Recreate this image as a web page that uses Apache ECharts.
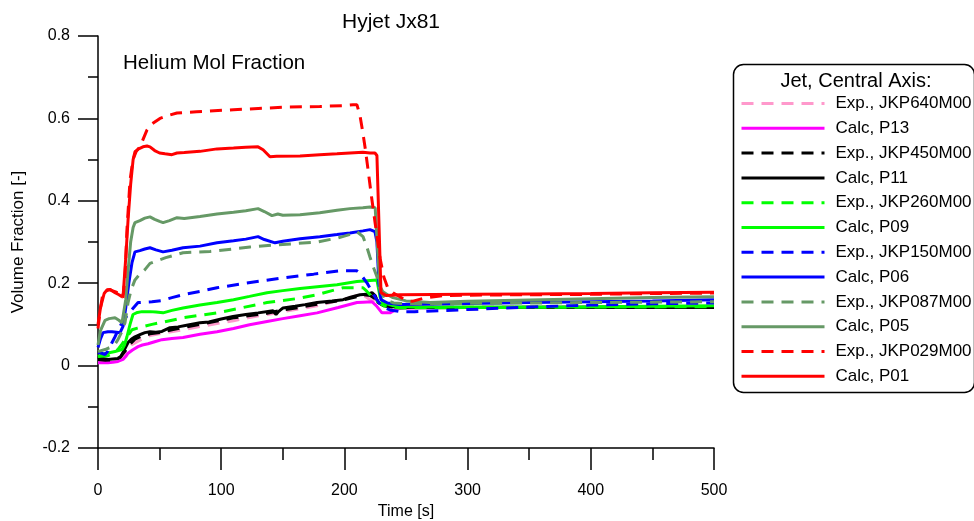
<!DOCTYPE html>
<html>
<head>
<meta charset="utf-8">
<script src="https://cdn.jsdelivr.net/npm/echarts@6/dist/echarts.min.js"></script>
<style>
html,body{margin:0;padding:0;background:#fff;}
#chart{width:974px;height:521px;}
</style>
</head>
<body>
<div id="chart"></div>
<script>
// ---- data: [time s, volume fraction] ----
const expJKP640M00 = [[0,0.01],[5,0.01],[10,0.012],[15,0.013],[18,0.016],[22,0.03],[27,0.05],[33,0.06],[38,0.068],[42.2,0.073],[55,0.08],[69,0.087],[82.8,0.095],[96.6,0.102],[110,0.109],[123,0.117],[137.2,0.124],[150,0.131],[164,0.138],[177.8,0.145],[190,0.154],[204.5,0.165],[212.7,0.172],[215.1,0.172],[220.8,0.16],[227.3,0.153],[232,0.147],[245,0.143],[300,0.143],[400,0.143],[500,0.143]];
const calcP13 = [[0,0.007],[4,0.007],[8.1,0.007],[12,0.008],[16.2,0.01],[20.3,0.015],[22.5,0.022],[24.4,0.03],[28,0.038],[32.5,0.046],[36,0.05],[40.6,0.053],[46,0.058],[51.9,0.063],[60,0.066],[69,0.068],[82.8,0.076],[96.6,0.082],[110,0.09],[123,0.099],[137.2,0.107],[150,0.114],[164,0.121],[177.8,0.128],[195,0.141],[210.2,0.153],[215,0.154],[222.4,0.155],[226,0.145],[230.5,0.128],[237,0.128],[243,0.138],[250,0.14],[300,0.141],[400,0.142],[500,0.143]];
const expJKP450M00 = [[0,0.015],[6,0.013],[12,0.014],[18,0.02],[22,0.035],[26,0.052],[30,0.064],[35,0.071],[42.2,0.077],[52,0.081],[60,0.087],[70,0.093],[82.8,0.1],[96.6,0.108],[110,0.116],[125,0.122],[137.2,0.127],[150.2,0.135],[165,0.142],[177.8,0.149],[190,0.155],[200,0.16],[210,0.167],[216,0.172],[220.8,0.17],[225,0.162],[229,0.15],[235,0.143],[245,0.141],[300,0.141],[400,0.141],[500,0.141]];
const calcP11 = [[0,0.02],[4,0.017],[8.1,0.015],[12,0.016],[16.2,0.017],[18.5,0.022],[20.3,0.032],[22.5,0.045],[24.4,0.056],[27,0.064],[30,0.07],[34,0.075],[38.1,0.08],[42.2,0.082],[47,0.081],[51.9,0.083],[58.4,0.092],[65,0.094],[72,0.098],[82.8,0.104],[90,0.106],[100,0.113],[109.6,0.119],[120,0.124],[130,0.128],[142,0.133],[144.5,0.124],[146.5,0.131],[150.2,0.14],[160,0.144],[168,0.148],[177.8,0.153],[190,0.157],[198.9,0.16],[205,0.166],[212.7,0.172],[218,0.173],[222.4,0.177],[225,0.17],[227.3,0.153],[232,0.145],[245,0.141],[300,0.141],[400,0.141],[500,0.141]];
const expJKP260M00 = [[0,0.022],[8.1,0.024],[12,0.03],[16.2,0.039],[19,0.05],[21.9,0.063],[25,0.076],[27.6,0.087],[32,0.091],[35.7,0.094],[43.8,0.1],[51.9,0.105],[69,0.116],[96.6,0.128],[137.2,0.153],[160,0.162],[177.8,0.172],[190,0.182],[198.9,0.189],[210.2,0.189],[215.1,0.189],[218.3,0.18],[222.4,0.167],[227.3,0.155],[232,0.145],[245,0.14],[300,0.141],[400,0.142],[500,0.143]];
const calcP09 = [[0,0.022],[5.7,0.029],[10,0.032],[13.8,0.034],[19.5,0.039],[21.5,0.05],[23.5,0.07],[26,0.1],[28.4,0.124],[32,0.129],[35.7,0.131],[42.2,0.131],[47,0.13],[52.8,0.128],[60,0.134],[69,0.14],[82.8,0.147],[96.6,0.153],[110,0.16],[123,0.168],[137.2,0.177],[150,0.182],[164,0.187],[180,0.192],[194,0.196],[210.2,0.204],[218.3,0.206],[226.4,0.208],[228.9,0.167],[231.3,0.153],[240,0.145],[255,0.142],[300,0.142],[400,0.143],[500,0.145]];
const expJKP150M00 = [[0,0.032],[3,0.03],[5.7,0.027],[8,0.035],[11.4,0.056],[13.8,0.07],[17,0.09],[19.5,0.104],[22,0.115],[24.4,0.124],[27.6,0.136],[32.5,0.153],[38,0.154],[43.8,0.155],[51.9,0.158],[60,0.165],[69,0.172],[82.8,0.18],[96.6,0.189],[120,0.2],[150.2,0.213],[175,0.222],[196.4,0.23],[210.2,0.23],[212,0.226],[218.3,0.201],[224.8,0.167],[230.5,0.143],[237,0.135],[245.1,0.131],[257,0.131],[300,0.136],[350,0.142],[400,0.147],[450,0.15],[500,0.152]];
const calcP06 = [[0,0.044],[2,0.065],[4.1,0.08],[8,0.082],[11.4,0.082],[15,0.081],[17.9,0.08],[20.3,0.095],[22.5,0.14],[25,0.2],[27.6,0.25],[30,0.276],[34,0.279],[38,0.283],[42.2,0.286],[47,0.281],[52.8,0.276],[60,0.28],[69,0.286],[82.8,0.29],[96.6,0.298],[110,0.303],[120,0.307],[129.9,0.313],[135,0.306],[143.7,0.298],[150,0.302],[164,0.308],[180,0.313],[194,0.318],[204.5,0.322],[215,0.327],[220.8,0.33],[224.8,0.325],[226.4,0.3],[228,0.2],[229.7,0.16],[235,0.152],[245,0.148],[300,0.151],[350,0.153],[400,0.155],[450,0.157],[500,0.16]];
const expJKP087M00 = [[0,0.034],[5.7,0.039],[11.4,0.046],[14,0.053],[16.2,0.063],[19,0.08],[21.9,0.104],[24.4,0.153],[27,0.185],[30,0.208],[34,0.222],[38.1,0.233],[42.2,0.248],[48.7,0.255],[55,0.262],[69,0.274],[90.9,0.277],[110,0.283],[123.4,0.288],[150,0.294],[177.8,0.3],[195,0.31],[204,0.318],[210.2,0.325],[215.1,0.313],[218,0.29],[220.8,0.263],[224,0.235],[226.4,0.216],[228.9,0.184],[233,0.16],[240,0.152],[250,0.15],[300,0.151],[400,0.153],[500,0.155]];
const calcP05 = [[0,0.05],[2,0.085],[5.7,0.11],[9,0.114],[13.8,0.116],[17,0.11],[19.5,0.104],[20.8,0.102],[22.5,0.16],[24.4,0.23],[26.5,0.3],[28.5,0.335],[30,0.347],[34,0.352],[38,0.358],[42.2,0.361],[46,0.355],[50,0.35],[52.8,0.347],[58,0.352],[64.1,0.359],[70,0.357],[82.8,0.362],[96.6,0.368],[110,0.372],[120,0.376],[129.9,0.381],[135,0.374],[141.2,0.364],[146,0.368],[150,0.365],[164,0.366],[180,0.371],[194,0.377],[204.5,0.381],[215,0.383],[220.8,0.385],[225,0.383],[227.3,0.264],[228.9,0.192],[231.3,0.179],[235,0.172],[239.4,0.165],[250,0.157],[269.5,0.153],[300,0.156],[350,0.159],[400,0.162],[450,0.165],[500,0.167]];
const expJKP029M00 = [[0,0.09],[2,0.14],[4.1,0.177],[8,0.183],[9.7,0.184],[12,0.181],[15,0.178],[17.9,0.177],[20.3,0.165],[22,0.22],[23.5,0.33],[26,0.45],[28.4,0.5],[31,0.52],[34.1,0.531],[37,0.552],[39.8,0.572],[44,0.587],[50.3,0.6],[57,0.607],[64.1,0.613],[80,0.616],[90.9,0.618],[110,0.621],[130,0.624],[150,0.627],[180,0.629],[200,0.631],[207,0.633],[210.2,0.633],[212.7,0.606],[215,0.565],[217,0.525],[219,0.48],[222,0.41],[225,0.345],[229,0.26],[232,0.215],[235,0.19],[239.4,0.177],[245,0.167],[250,0.158],[255,0.156],[265,0.164],[280,0.17],[300,0.171],[350,0.172],[400,0.173],[450,0.175],[500,0.176]];
const calcP01 = [[0,0.10],[2,0.14],[5,0.175],[7.3,0.184],[10,0.185],[13.8,0.177],[17,0.172],[19.5,0.167],[20.5,0.175],[22.5,0.26],[24.4,0.354],[26.5,0.44],[28.5,0.5],[30,0.519],[33,0.526],[36.5,0.531],[39.8,0.533],[42.2,0.531],[46,0.522],[50,0.516],[54.4,0.514],[60,0.512],[64.1,0.516],[70,0.517],[82.8,0.52],[96.6,0.526],[110,0.528],[120,0.53],[129.9,0.531],[134,0.524],[139.6,0.507],[145,0.508],[164,0.509],[180,0.512],[194,0.514],[204.5,0.516],[215,0.518],[220.8,0.516],[224.8,0.516],[226.4,0.51],[228,0.35],[229.7,0.177],[234,0.17],[245,0.172],[300,0.173],[350,0.174],[400,0.175],[450,0.177],[500,0.178]];

const seriesNames = ['Exp., JKP640M00','Calc, P13','Exp., JKP450M00','Calc, P11','Exp., JKP260M00','Calc, P09','Exp., JKP150M00','Calc, P06','Exp., JKP087M00','Calc, P05','Exp., JKP029M00','Calc, P01'];
const seriesData = [expJKP640M00, calcP13, expJKP450M00, calcP11, expJKP260M00, calcP09, expJKP150M00, calcP06, expJKP087M00, calcP05, expJKP029M00, calcP01];
const seriesColors = ['#ff99cc','#ff00ff','#000000','#000000','#00ff00','#00ff00','#0000ff','#0000ff','#669966','#669966','#ff0000','#ff0000'];
const seriesDashed = [true,false,true,false,true,false,true,false,true,false,true,false];

const xTicks = {min:0, max:500, interval:100};
const yTicks = {min:-0.2, max:0.8, interval:0.2};

const FONT = 'Liberation Sans, Arial, sans-serif';

const chart = echarts.init(document.getElementById('chart'), null, {renderer:'canvas'});

const series = seriesNames.map((n,i)=>({
  name:n, type:'line', data:seriesData[i], symbol:'none', showSymbol:false,
  lineStyle:{color:seriesColors[i], width:3, type: seriesDashed[i] ? [12,8] : 'solid'},
  itemStyle:{color:seriesColors[i]},
  emphasis:{disabled:true}, z: 2
}));

chart.setOption({
  animation:false,
  backgroundColor:'#ffffff',
  textStyle:{fontFamily:FONT},
  grid:{left:98, top:36, right:260, bottom:73, containLabel:false, outerBoundsMode:'none'},
  xAxis:{
    type:'value', min:xTicks.min, max:xTicks.max, interval:xTicks.interval,
    name:'Time [s]', nameLocation:'middle', nameGap:53,
    nameTextStyle:{fontSize:16, color:'#000', fontFamily:FONT},
    axisLine:{onZero:false, lineStyle:{color:'#000', width:1.5}},
    axisTick:{show:true, inside:false, length:22, lineStyle:{color:'#000', width:1.5}},
    minorTick:{show:true, splitNumber:2, length:12, lineStyle:{color:'#000', width:1.5}},
    axisLabel:{margin:35, fontSize:16, color:'#000', fontFamily:FONT},
    splitLine:{show:false}
  },
  yAxis:{
    type:'value', min:yTicks.min, max:yTicks.max, interval:yTicks.interval,
    name:'Volume Fraction [-]', nameLocation:'middle', nameGap:71, nameRotate:90,
    nameTextStyle:{fontSize:17, color:'#000', fontFamily:FONT},
    axisLine:{onZero:false, lineStyle:{color:'#000', width:1.5}},
    axisTick:{show:true, inside:false, length:20, lineStyle:{color:'#000', width:1.5}},
    minorTick:{show:true, splitNumber:2, length:10, lineStyle:{color:'#000', width:1.5}},
    axisLabel:{margin:28, fontSize:16, color:'#000', fontFamily:FONT},
    splitLine:{show:false}
  },
  legend:{
    orient:'vertical', left:740, top:95, padding:0,
    itemWidth:83, itemHeight:14, itemGap:7.8,
    data:seriesNames,
    selectedMode:false,
    itemStyle:{opacity:0},
    lineStyle:{width:3},
    textStyle:{fontSize:17, color:'#000', fontFamily:FONT, padding:[0,0,0,6]}
  },
  graphic:[
    {type:'rect', left:731, top:62, shape:{width:241, height:328, r:10}, style:{fill:'none', stroke:'#000', lineWidth:1.5}, z:1},
    {type:'text', x:856, y:81, style:{text:'Jet, Central Axis:', fontSize:20, fontFamily:FONT, fill:'#000', textAlign:'center', textVerticalAlign:'middle'}},
    {type:'text', x:391, y:22, style:{text:'Hyjet Jx81', fontSize:21, fontFamily:FONT, fill:'#000', textAlign:'center', textVerticalAlign:'middle'}},
    {type:'text', x:123, y:63, style:{text:'Helium Mol Fraction', fontSize:20.5, fontFamily:FONT, fill:'#000', textAlign:'left', textVerticalAlign:'middle'}}
  ],
  series:series
});
</script>
</body>
</html>
